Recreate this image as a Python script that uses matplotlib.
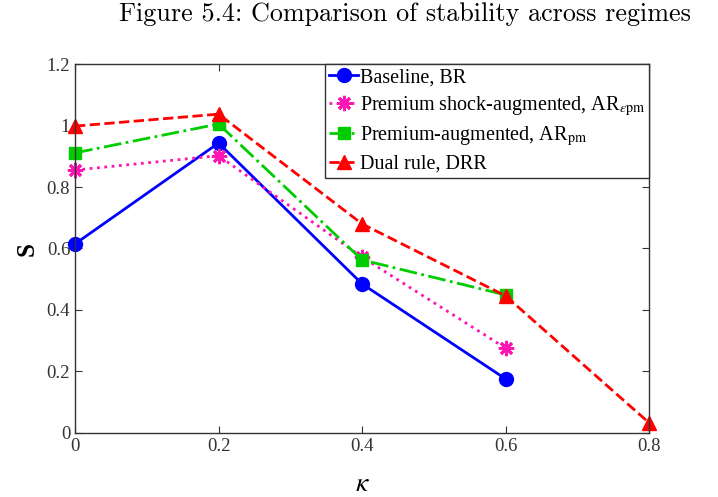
import matplotlib
matplotlib.use('Agg')
import matplotlib.pyplot as plt

plt.rcParams['font.family'] = 'Liberation Serif'
plt.rcParams['mathtext.fontset'] = 'stix'

kappa = [0, 0.2, 0.4, 0.6, 0.8]
s_br = [0.615, 0.943, 0.485, 0.176]
s_arepm = [0.855, 0.902, 0.572, 0.276]
s_arpm = [0.911, 1.005, 0.563, 0.449]
s_drr = [0.998, 1.037, 0.68, 0.446, 0.033]

fig = plt.figure(figsize=(7.18, 4.97), dpi=100)
ax = fig.add_axes([0.1045, 0.1288, 0.7995, 0.7424])

ax.plot(kappa[:4], s_br, '-o', color='#0000ff', lw=2, ms=10, clip_on=False, label='Baseline, BR')
ax.plot(kappa[:4], s_arepm, ':', marker=(8, 2, 0), color='#ff14b4', lw=2, ms=11, mew=2,
        clip_on=False, label=r'Premium shock-augmented, AR$_{\epsilon\mathrm{pm}}$')
ax.plot(kappa[:4], s_arpm, '-.s', color='#00cc00', lw=2, ms=9, clip_on=False,
        label=r'Premium-augmented, AR$_{\mathrm{pm}}$')
ax.plot(kappa, s_drr, '--^', color='#ff0000', lw=2, ms=10, clip_on=False, label='Dual rule, DRR')

ax.set_xlim(0, 0.8)
ax.set_ylim(0, 1.2)
ax.set_xticks([0, 0.2, 0.4, 0.6, 0.8])
ax.set_xticklabels(['0', '0.2', '0.4', '0.6', '0.8'])
ax.set_yticks([0, 0.2, 0.4, 0.6, 0.8, 1, 1.2])
ax.set_yticklabels(['0', '0.2', '0.4', '0.6', '0.8', '1', '1.2'])
ax.tick_params(direction='in', top=True, right=True, labelsize=13.5, colors='#333333', length=5)
for sp in ax.spines.values():
    sp.set_color('#333333')
    sp.set_linewidth(1)

ax.set_xlabel(r'$\kappa$', fontsize=20, labelpad=12)
ax.set_ylabel('S', fontsize=18, fontweight='bold', labelpad=6)

leg = ax.legend(loc='upper right', fontsize=14.5, handlelength=1.4, handletextpad=0.1,
                borderaxespad=0, fancybox=False, framealpha=1, edgecolor='#333333',
                borderpad=0.2, labelspacing=0.33)
leg.get_frame().set_linewidth(1)

fig.text(0.564, 0.972, 'Figure 5.4: Comparison of stability across regimes', family='cmr10',
         fontsize=18.8, ha='center', va='center')

fig.savefig('out.png', dpi=100)
